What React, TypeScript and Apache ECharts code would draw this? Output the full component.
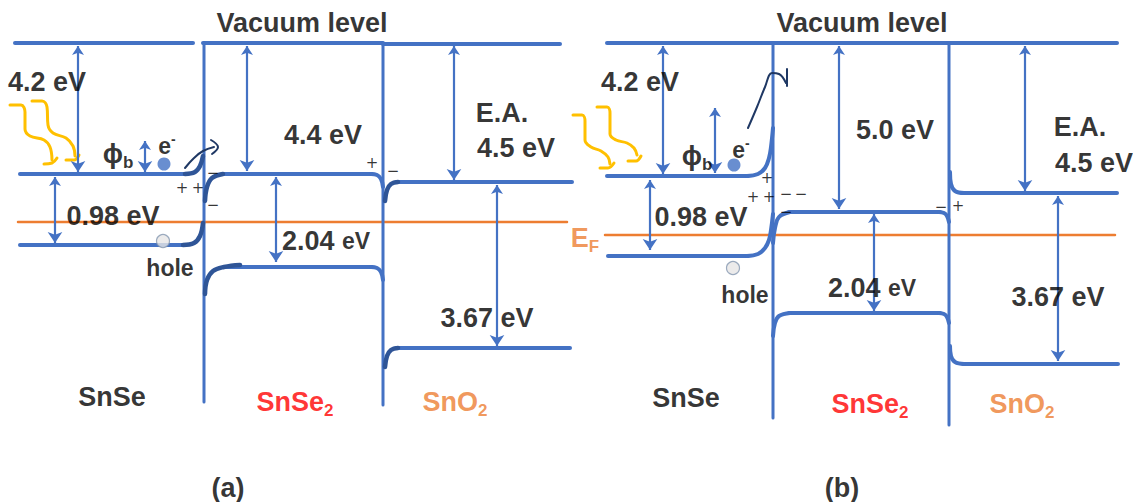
import React, { useEffect, useRef } from "react";
import * as echarts from "echarts";

const BLUE = "#4472C4";
const DARK = "#2F5597";
const NAVY = "#1F3864";
const ORANGE = "#ED7D31";
const YELLOW = "#FFC000";
const FONT = "'Liberation Sans Narrow', 'Liberation Sans', Arial, sans-serif";

// ---- band-diagram geometry (diagram units: x to the right, energy drawn downward) ----
const vacuumLevels: number[][][] = [
  [[15, 43], [193, 43]], [[203, 43], [383, 43]], [[383, 44], [560, 44]],
  [[607, 43], [772, 43]], [[772, 43], [948, 43]], [[948, 43], [1117, 43]],
];
const interfaces: number[][][] = [
  [[204, 43], [204, 402]], [[383, 43], [383, 405]],
  [[773, 43], [773, 418]], [[949, 43], [949, 425]],
];
const flatEdges: number[][][] = [
  [[20, 174], [188, 174]], [[20, 245], [185, 245]],
  [[222, 174], [372, 174]], [[224, 267], [372, 267]],
  [[396, 182], [572, 182]], [[396, 348], [570, 348]],
  [[607, 176], [748, 176]], [[608, 256], [748, 256]],
  [[789, 212], [940, 212]], [[789, 313], [940, 313]],
  [[963, 193], [1117, 193]], [[963, 364], [1118, 364]],
];
const bentEdgesLight: number[][][] = [
  [[371, 174], [377, 175], [381, 179], [383, 187]],
  [[371, 267], [377, 268], [381, 272], [383, 280]],
  [[747, 176], [758, 174], [765, 168], [769, 158], [771, 147], [773, 128]],
  [[747, 256], [758, 254], [765, 248], [769, 240], [771, 230], [773, 214]],
  [[773, 243], [775, 228], [779, 217], [790, 212]],
  [[773, 336], [775, 323], [779, 316], [790, 313]],
  [[939, 212], [944, 213], [947, 216], [949, 222]],
  [[939, 313], [944, 314], [947, 317], [949, 323]],
  [[950, 172], [951, 184], [955, 191], [964, 193]],
  [[950, 346], [951, 356], [955, 362], [964, 364]],
];
const bentEdgesDark: number[][][] = [
  [[185, 174], [195, 172], [200, 166], [203, 156]],
  [[183, 245], [194, 243], [200, 236], [203, 223]],
  [[205, 201], [207, 187], [212, 178], [223, 174]],
  [[205, 294], [207, 280], [213, 271], [224, 267], [240, 265]],
  [[385, 201], [387, 190], [391, 184], [398, 182]],
  [[385, 367], [387, 356], [391, 350], [398, 348]],
];
const fermiLevels: number[][][] = [
  [[18, 222], [567, 222]],
  [[605, 235], [1115, 235]],
];
// double-headed energy arrows: [x, yTop, yBottom]
const energyArrows: number[][] = [
  [78, 46, 172], [55, 177, 243], [145, 141, 172], [247, 46, 171], [276, 177, 262],
  [454, 46, 180], [497, 185, 346],
  [663, 46, 174], [650, 180, 250], [715, 108, 173], [839, 46, 209], [874, 214, 311],
  [1025, 46, 191], [1058, 196, 361],
];
// electron transfer arrows
const transferPaths: number[][][] = [
  [[185, 168], [194, 158], [203, 151], [214, 147]],
  [[211, 140], [218, 147], [212, 154]],
  [[748, 128], [757, 107], [765, 87], [772, 73], [779, 74], [786, 83]],
  [[787, 69], [787, 86]],
];
// incident light
const photonPaths: number[][][] = [
  [[10, 105], [21, 105], [25, 112], [25, 129], [30, 136], [44, 140], [50, 147], [52, 160]],
  [[44, 164], [52, 163], [57, 158]],
  [[32, 101], [42, 101], [47, 107], [48, 125], [53, 133], [66, 138], [73, 146], [75, 156]],
  [[66, 160], [74, 160], [79, 155]],
  [[573, 115], [582, 115], [585, 121], [585, 140], [591, 147], [601, 151], [608, 157], [610, 164]],
  [[600, 168], [608, 168], [614, 163]],
  [[597, 107], [607, 107], [610, 113], [610, 134], [616, 140], [627, 143], [634, 148], [637, 155]],
  [[628, 161], [636, 161], [641, 156]],
];
const electrons: number[][] = [[164, 164], [734, 165]];
const holes: number[][] = [[163, 241], [733, 268]];

// texts: [text, x, y]
const labels: [string, number, number][] = [
  ["Vacuum level", 302, 23], ["4.2 eV", 47, 82], ["{m|ϕ}{sb|b}", 118, 154],
  ["{e|e}{sp|-}", 167, 146], ["4.4 eV", 323, 135], ["0.98 eV", 113, 216],
  ["{m|2.04 }{e|eV}", 326, 241], ["{h|hole}", 170, 268], ["E.A.", 502, 113],
  ["4.5 eV", 516, 148], ["3.67 eV", 487, 318], ["SnSe", 112, 397],
  ["{r|SnSe}{rs|2}", 295, 402], ["{o|SnO}{os|2}", 455, 402], ["(a)", 228, 488],
  ["Vacuum level", 862, 23], ["4.2 eV", 640, 82], ["{m|ϕ}{sb|b}", 697, 156],
  ["{e|e}{sp|-}", 741, 150], ["5.0 eV", 895, 130], ["0.98 eV", 701, 217],
  ["{h|hole}", 745, 295], ["{m|2.04 }{e|eV}", 872, 288], ["E.A.", 1080, 127],
  ["4.5 eV", 1094, 163], ["3.67 eV", 1058, 297], ["{o|E}{os|F}", 585, 238],
  ["SnSe", 686, 398], ["{r|SnSe}{rs|2}", 870, 404], ["{o|SnO}{os|2}", 1022, 404],
  ["(b)", 842, 488],
];
const charges: [string, number, number][] = [
  ["+", 182, 188], ["+", 198, 188], ["−", 213, 173], ["−", 213, 205], ["+", 372, 163], ["−", 393, 171],
  ["+", 767, 178], ["+", 753, 197], ["+", 769, 197], ["−", 786, 194], ["−", 801, 194], ["−", 786, 212],
  ["−", 941, 207], ["+", 958, 206],
];

function pathSeries(paths: number[][][], color: string, width: number, smooth: number | boolean, z = 2) {
  return paths.map((p) => ({
    type: "line",
    data: p,
    symbol: "none",
    smooth,
    clip: false,
    silent: true,
    z,
    lineStyle: { color, width, cap: "round", join: "round" },
  }));
}

export default function App() {
  const ref = useRef<HTMLDivElement>(null);
  useEffect(() => {
    if (!ref.current) return;
    const chart = echarts.init(ref.current, undefined, { renderer: "svg" });
    const base = { fontFamily: FONT, fontWeight: "bold", color: "#000" };
    const option: any = {
      animation: false,
      backgroundColor: "#fff",
      grid: { left: 0, right: 0, top: 0, bottom: 0 },
      xAxis: { type: "value", min: 0, max: 1133, show: false },
      yAxis: { type: "value", min: 0, max: 502, inverse: true, show: false },
      series: [
        ...pathSeries(fermiLevels, ORANGE, 2.5, false, 1),
        ...pathSeries(vacuumLevels, BLUE, 4, false),
        ...pathSeries(interfaces, BLUE, 3, false),
        ...pathSeries(flatEdges, BLUE, 4, false),
        ...pathSeries(bentEdgesLight, BLUE, 4, 0.4),
        ...pathSeries(bentEdgesDark, DARK, 4.5, 0.4, 3),
        ...pathSeries(transferPaths, NAVY, 2, 0.4, 3),
        ...pathSeries(photonPaths, YELLOW, 3, 0.4, 3),
        {
          type: "lines",
          coordinateSystem: "cartesian2d",
          symbol: ["arrow", "arrow"],
          symbolSize: [9, 11],
          silent: true,
          z: 4,
          lineStyle: { color: BLUE, width: 2.2, opacity: 1 },
          data: energyArrows.map((a) => ({ coords: [[a[0], a[1]], [a[0], a[2]]] })),
        },
        {
          type: "scatter",
          symbolSize: 13,
          silent: true,
          z: 5,
          itemStyle: { color: BLUE },
          data: electrons,
        },
        {
          type: "scatter",
          symbolSize: 13,
          silent: true,
          z: 5,
          itemStyle: { color: "#E7E6E6", borderColor: "#8497B0", borderWidth: 1.2 },
          data: holes,
        },
        {
          type: "scatter",
          symbolSize: 0,
          silent: true,
          z: 6,
          data: labels.map((l) => ({ value: [l[1], l[2]], txt: l[0] })),
          label: {
            show: true,
            position: "inside",
            formatter: (p: any) => p.data.txt,
            ...base,
            fontSize: 27,
            rich: {
              m: { ...base, fontSize: 27 },
              sb: { ...base, fontSize: 17, padding: [16, 0, 0, 0] },
              e: { ...base, fontSize: 23 },
              sp: { ...base, fontSize: 14, padding: [0, 0, 14, 0] },
              h: { ...base, fontSize: 23 },
              r: { ...base, fontSize: 27, color: "#FF0000" },
              rs: { ...base, fontSize: 17, color: "#FF0000", padding: [16, 0, 0, 0] },
              o: { ...base, fontSize: 27, color: ORANGE },
              os: { ...base, fontSize: 17, color: ORANGE, padding: [16, 0, 0, 0] },
            },
          },
        },
        {
          type: "scatter",
          symbolSize: 0,
          silent: true,
          z: 6,
          data: charges.map((c) => ({ value: [c[1], c[2]], txt: c[0] })),
          label: {
            show: true,
            position: "inside",
            formatter: (p: any) => p.data.txt,
            fontFamily: "'DejaVu Sans', sans-serif",
            fontSize: 15,
            color: "#000",
          },
        },
      ],
    };
    chart.setOption(option);
    return () => chart.dispose();
  }, []);
  return (
    <div
      ref={ref}
      style={{ position: "fixed", left: 0, top: 0, width: 1133, height: 502, background: "#fff" }}
    />
  );
}
